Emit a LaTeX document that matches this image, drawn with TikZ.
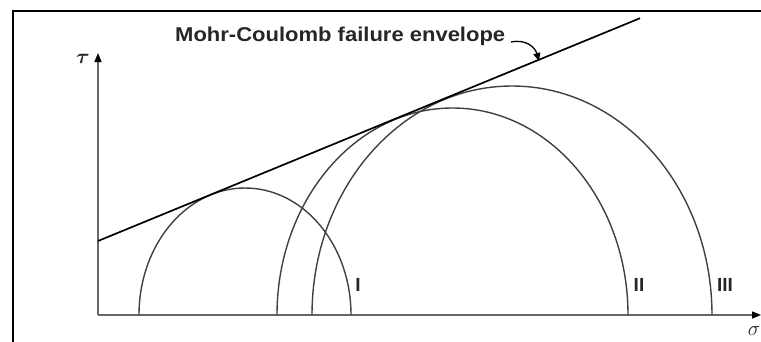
\documentclass[tikz,border=0pt]{standalone}
\usepackage{fontspec}
\usepackage{graphicx}
\usepackage{amsmath}
\newfontfamily\labfont{Liberation Sans}
\usetikzlibrary{arrows.meta}
\begin{document}
\begin{tikzpicture}[x=1pt,y=-1pt,
  frame/.style={line width=2pt,black},
  axis/.style={line width=1.4pt,black!60,-{Triangle[length=9pt,width=7pt,black]}},
  mohr/.style={line width=1.4pt,black!75},
  envline/.style={line width=1.7pt,black},
  lbl/.style={font=\labfont\bfseries\fontsize{19}{19}\selectfont,inner sep=0pt,text=black!85},
  greek/.style={inner sep=0pt,font=\fontsize{20}{20}\selectfont,text=black!85}]
\useasboundingbox (0,0) rectangle (761,341);
% frame (only top and left visible)
\coordinate (ftl) at (13,11);
\coordinate (ftr) at (762,11);
\coordinate (fbl) at (13,342);
\draw[frame] (fbl) -- (ftl) -- (ftr);
% axes
\coordinate (O) at (98,315);
\coordinate (ytip) at (98,53);
\coordinate (xtip) at (761,315);
\draw[axis] (O) -- (ytip);
\draw[axis] (O) -- (xtip);
\node[greek] (tau) at (83,59) {$\boldsymbol{\tau}$};
\node[greek] (sigma) at (754,331) {$\sigma$};
% Mohr circles
\coordinate (c1) at (139,315);
\coordinate (c2) at (277,315);
\coordinate (c3) at (312,315);
\draw[mohr] (c1) arc[start angle=180,end angle=360,x radius=106,y radius=127];
\draw[mohr] (c2) arc[start angle=180,end angle=360,x radius=175.5,y radius=207];
\draw[mohr] (c3) arc[start angle=180,end angle=360,x radius=200,y radius=229];
% envelope
\coordinate (e1) at (98,241);
\coordinate (e2) at (640,18.2);
\draw[envline] (e1) -- (e2);
% labels
\node[lbl] (L1) at (358,285) {I};
\node[lbl] (L2) at (639,285) {II};
\node[lbl] (L3) at (725,285) {III};
% title
\node[anchor=base west,inner sep=0pt,font=\labfont\bfseries\fontsize{20}{20}\selectfont,text=black!85] (title) at (175,41.5) {\scalebox{1.1}[1]{Mohr-Coulomb failure envelope}};
\coordinate (arrs) at (511,42);
\coordinate (arre) at (539,61);
\draw[line width=1.3pt,-{Triangle[length=8pt,width=7pt]}] (arrs) .. controls (526,39) and (535,47) .. (arre);
\end{tikzpicture}
\end{document}
